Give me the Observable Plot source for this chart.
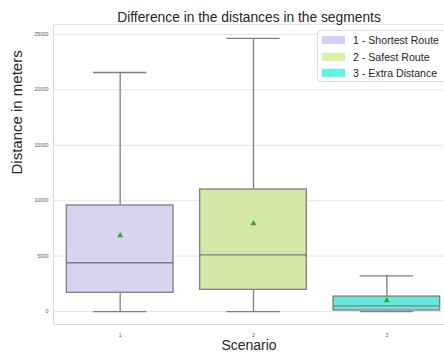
<!DOCTYPE html>
<html>
<head>
<meta charset="utf-8">
<script src="https://cdn.jsdelivr.net/npm/d3@7"></script>
<script src="https://cdn.jsdelivr.net/npm/@observablehq/plot@0.6"></script>
<style>
  html, body { margin: 0; padding: 0; background: #fff; overflow: hidden; }
  #wrap { position: relative; width: 444px; height: 352px; font-family: "Liberation Sans", Arial, sans-serif; }
  #legend { position: absolute; left: 317px; top: 30px; width: 140px; height: 52px; box-sizing: border-box;
            border: 1px solid #dcdcdc; border-radius: 3px; background: rgba(255,255,255,0.85); }
  .row { position: absolute; left: 4px; height: 12px; display: flex; align-items: center; font-size: 10.6px; color: #262626; white-space: nowrap; }
  .sw { width: 23px; height: 8px; margin-right: 8px; }
</style>
</head>
<body>
<div id="wrap"></div>
<script>
const scenarios = [1, 2, 3];
const legendLabels = ["1 - Shortest Route", "2 - Safest Route", "3 - Extra Distance"];
const whiskerLow = [0, 0, 0];
const q1 = [1690, 1960, 90];
const median = [4400, 5120, 510];
const q3 = [9570, 11010, 1350];
const whiskerHigh = [21570, 24640, 3220];
const means = [6860, 7940, 990];
const boxColors = ["#d8d3f0", "#d5e8a8", "#66e8dc"];
const legendColors = ["#d6d0f5", "#d9f1a3", "#5cf5e6"];
const yTicks = [0, 5000, 10000, 15000, 20000, 25000];
const xDomain = [0.5, 3.5];
const yDomain = [-1170, 25900];

const data = scenarios.map((s, i) => ({
  s, lo: whiskerLow[i], q1: q1[i], med: median[i], q3: q3[i], hi: whiskerHigh[i], mean: means[i], color: boxColors[i]
}));

const lineColor = "#7f7f7f";
const half = 0.4, capHalf = 0.2;

const chart = Plot.plot({
  width: 444,
  height: 352,
  marginTop: 24,
  marginBottom: 28,
  marginLeft: 53,
  marginRight: 0,
  style: { fontFamily: "Liberation Sans, Arial, sans-serif", background: "#fff", overflow: "visible" },
  x: { type: "linear", domain: xDomain, range: [53, 453], ticks: scenarios, tickFormat: d => String(d) },
  y: { domain: yDomain, ticks: yTicks, tickFormat: d3.format("d") },
  marks: [
    Plot.gridY(yTicks, { stroke: "#e6e6e6", strokeOpacity: 1, strokeWidth: 1 }),
    Plot.ruleX([xDomain[0]], { stroke: "#dadada", strokeWidth: 1 }),
    Plot.ruleY([yDomain[0]], { stroke: "#dadada", strokeWidth: 1 }),
    Plot.ruleY([yDomain[1]], { stroke: "#e6e6e6", strokeWidth: 1 }),
    Plot.axisY(yTicks, { tickSize: 0, tickPadding: 5, fontSize: 5, fill: "#555", label: null, tickFormat: d3.format("d") }),
    Plot.axisX(scenarios, { tickSize: 0, tickPadding: 9, fontSize: 5, fill: "#555", label: null, tickFormat: d => String(d) }),
    // whiskers
    Plot.ruleX(data, { x: "s", y1: "lo", y2: "q1", stroke: lineColor, strokeWidth: 1.3 }),
    Plot.ruleX(data, { x: "s", y1: "q3", y2: "hi", stroke: lineColor, strokeWidth: 1.3 }),
    // caps
    Plot.ruleY(data, { y: "lo", x1: d => d.s - capHalf, x2: d => d.s + capHalf, stroke: lineColor, strokeWidth: 1.3 }),
    Plot.ruleY(data, { y: "hi", x1: d => d.s - capHalf, x2: d => d.s + capHalf, stroke: lineColor, strokeWidth: 1.3 }),
    // boxes
    Plot.rect(data, { x1: d => d.s - half, x2: d => d.s + half, y1: "q1", y2: "q3", fill: "color", stroke: lineColor, strokeWidth: 1.3 }),
    // medians
    Plot.ruleY(data, { y: "med", x1: d => d.s - half, x2: d => d.s + half, stroke: lineColor, strokeWidth: 1.3 }),
    // means
    Plot.dot(data, { x: "s", y: "mean", symbol: "triangle", r: 2.2, fill: "#3a9e3a", stroke: "none" }),
    // labels
    Plot.text(["Difference in the distances in the segments"], { frameAnchor: "top", dy: -7, fontSize: 13.8, fill: "#262626", textAnchor: "middle", lineAnchor: "middle" }),
    Plot.text(["Scenario"], { frameAnchor: "bottom", dy: 21, fontSize: 14, fill: "#262626", lineAnchor: "middle" }),
    Plot.text(["Distance in meters"], { frameAnchor: "left", dx: -36, rotate: -90, fontSize: 15, fill: "#262626", lineAnchor: "middle" })
  ]
});

const wrap = document.getElementById("wrap");
wrap.appendChild(chart);

const legend = document.createElement("div");
legend.id = "legend";
const tops = [3, 19.5, 36];
legendLabels.forEach((lab, i) => {
  const row = document.createElement("div");
  row.className = "row";
  row.style.top = tops[i] + "px";
  const sw = document.createElement("span");
  sw.className = "sw";
  sw.style.background = legendColors[i];
  const t = document.createElement("span");
  t.textContent = lab;
  row.appendChild(sw);
  row.appendChild(t);
  legend.appendChild(row);
});
wrap.appendChild(legend);
</script>
</body>
</html>
